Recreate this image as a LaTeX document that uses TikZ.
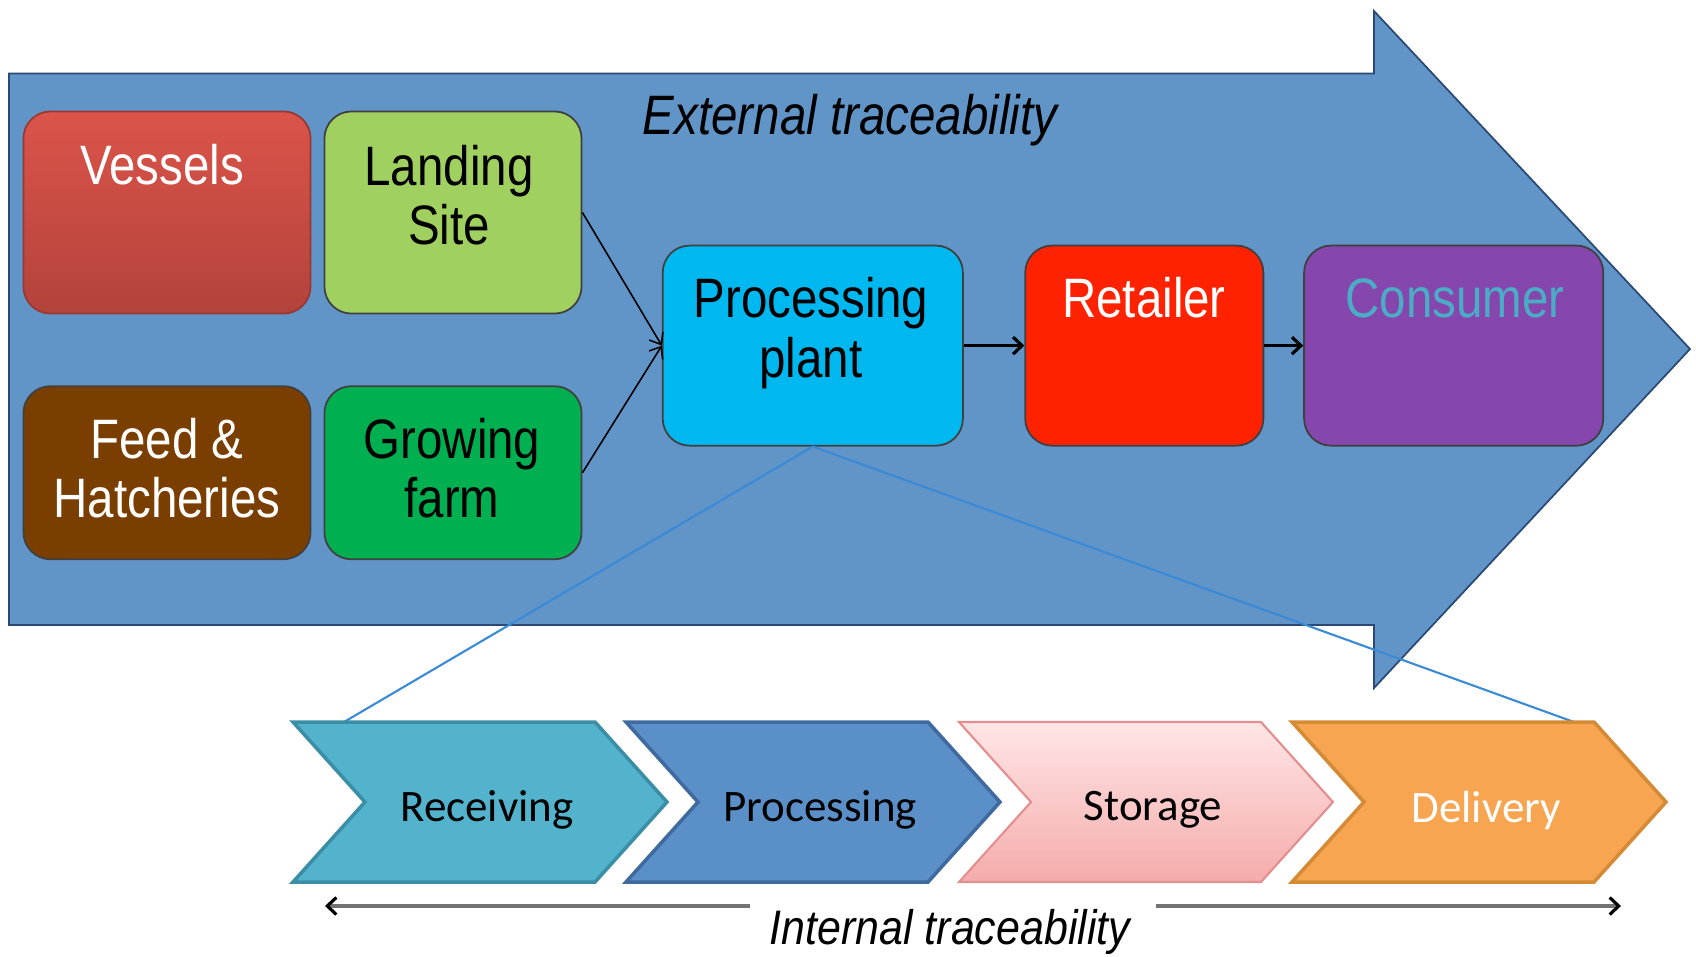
\documentclass[tikz,border=0pt]{standalone}
\usepackage{fontspec}
\setmainfont{Liberation Sans}
\newfontfamily\carlitofont{Carlito}
\usepackage{graphicx}
\usetikzlibrary{arrows.meta}
\definecolor{arrowblue}{HTML}{6194C7}
\definecolor{arrowedge}{HTML}{2A4A75}
\definecolor{vesTop}{HTML}{DB544A}
\definecolor{vesBot}{HTML}{B3433B}
\definecolor{landGreen}{HTML}{A0D060}
\definecolor{feedBrown}{HTML}{7A3F00}
\definecolor{growGreen}{HTML}{00B050}
\definecolor{procCyan}{HTML}{00B8F0}
\definecolor{retRed}{HTML}{FF2200}
\definecolor{conPurple}{HTML}{8547AE}
\definecolor{conText}{HTML}{4BACC6}
\definecolor{linkBlue}{HTML}{3B8AD6}
\definecolor{rcvFill}{HTML}{53B3CC}
\definecolor{rcvEdge}{HTML}{3A8EA6}
\definecolor{prcFill}{HTML}{5B8FC8}
\definecolor{prcEdge}{HTML}{3F6AA0}
\definecolor{stoTop}{HTML}{FFE6E6}
\definecolor{stoBot}{HTML}{F5ABAB}
\definecolor{stoEdge}{HTML}{E38F8F}
\definecolor{delFill}{HTML}{F7A550}
\definecolor{delEdge}{HTML}{D58A35}
\newcommand{\vstretch}[1]{\scalebox{1}[1.17]{#1}}
\begin{document}
\begin{tikzpicture}[x=0.01cm,y=-0.01cm,
  box/.style={draw=black!75, line width=0.5pt, rounded corners=0.27cm, inner sep=0pt},
  lbl/.style={font=\fontsize{13.5}{16.9}\selectfont, align=center, inner sep=0pt},
  chev/.style={line width=1pt, line join=miter},
  chevtxt/.style={font=\carlitofont\fontsize{12.8}{15}\selectfont, inner sep=0pt},
  flow/.style={-{Straight Barb[length=0.09cm,width=0.17cm]}, line width=0.9pt, black},
  feedin/.style={-{Straight Barb[length=0.1cm,width=0.16cm]}, line width=0.45pt, black},
  zoomline/.style={linkBlue, line width=0.6pt},
  trace/.style={font=\itshape\fontsize{13.5}{16}\selectfont, inner sep=0pt},
  ]
\useasboundingbox (0,0) rectangle (1696,956);
% big external arrow
\path[fill=arrowblue, draw=arrowedge, line width=0.5pt]
  (9,73.5) -- (1374,73.5) -- (1374,11) -- (1690,349) -- (1374,688) -- (1374,625) -- (9,625) -- cycle;
\node[trace] (ext) at (850,120) {\vstretch{External traceability}};
% boxes
\node[box, top color=vesTop, bottom color=vesBot, draw=vesBot!85!black, minimum width=2.87cm, minimum height=2.02cm] (ves) at (167,212.5) {};
\node[box, fill=landGreen, minimum width=2.57cm, minimum height=2.02cm] (ls) at (453,212.5) {};
\node[box, fill=feedBrown, minimum width=2.87cm, minimum height=1.73cm] (fh) at (167,472.7) {};
\node[box, fill=growGreen, minimum width=2.57cm, minimum height=1.73cm] (gf) at (453,472.7) {};
% zoom lines from processing plant
\coordinate (zl) at (344,722);
\coordinate (zr) at (1574,722);
\node[box, fill=procCyan, minimum width=3.0cm, minimum height=2.0cm] (pp) at (812.8,345.6) {};
\draw[zoomline] (pp.south) -- (zl);
\draw[zoomline] (pp.south) -- (zr);
\node[box, fill=retRed, minimum width=2.38cm, minimum height=2.0cm] (rt) at (1144.3,345.6) {};
\node[box, fill=conPurple, minimum width=2.99cm, minimum height=2.0cm] (cn) at (1453.7,345.6) {};
% box labels
\node[lbl, text=white] (vesT) at (162,165) {\vstretch{Vessels}};
\node[lbl] (lsT) at (449,195) {\vstretch{Landing}\\\vstretch{Site}};
\node[lbl, text=white] (fhT) at (167,468) {\vstretch{Feed \&}\\\vstretch{Hatcheries}};
\node[lbl] (gfT) at (452,468) {\vstretch{Growing}\\\vstretch{farm}};
\node[lbl] (ppT) at (811,333) {\vstretch{Processing}\\\vstretch{plant}};
\node[lbl, text=white] (rtT) at (1144,298) {\vstretch{Retailer}};
\node[lbl, text=conText] (cnT) at (1455,298) {\vstretch{Consumer}};
% connectors
\draw[feedin] (ls.east) -- (pp.west);
\draw[feedin] (gf.east) -- (pp.west);
\draw[flow] (pp.east) -- (rt.west);
\draw[flow] (rt.east) -- (cn.west);
% internal chevrons
\path[chev, fill=rcvFill, draw=rcvEdge] (293,722) -- (365,802) -- (293,882) -- (595,882) -- (667,802) -- (595,722) -- cycle;
\path[chev, fill=prcFill, draw=prcEdge] (626,722) -- (698,802) -- (626,882) -- (928,882) -- (1000,802) -- (928,722) -- cycle;
\path[chev, top color=stoTop, bottom color=stoBot, draw=stoEdge, line width=0.6pt] (959,722) -- (1031,802) -- (959,882) -- (1261,882) -- (1333,802) -- (1261,722) -- cycle;
\path[chev, fill=delFill, draw=delEdge] (1292,722) -- (1364,802) -- (1292,882) -- (1594,882) -- (1666,802) -- (1594,722) -- cycle;
\node[chevtxt] (rcvT) at (487,810) {Receiving};
\node[chevtxt] (prcT) at (820,810) {Processing};
\node[chevtxt] (stoT) at (1153,810) {Storage};
\node[chevtxt, text=white] (delT) at (1486,810) {Delivery};
% internal traceability arrow
\coordinate (ia1) at (325,906);
\coordinate (ia2) at (750,906);
\coordinate (ia3) at (1156,906);
\coordinate (ia4) at (1621,906);
\draw[black!55, line width=0.9pt, {Straight Barb[length=0.09cm,width=0.17cm,black]}-] (ia1) -- (ia2);
\draw[black!55, line width=0.9pt, -{Straight Barb[length=0.09cm,width=0.17cm,black]}] (ia3) -- (ia4);
\node[trace, font=\itshape\fontsize{12.2}{15}\selectfont] (intT) at (950,932) {\scalebox{1}[1.13]{Internal traceability}};
\end{tikzpicture}
\end{document}
